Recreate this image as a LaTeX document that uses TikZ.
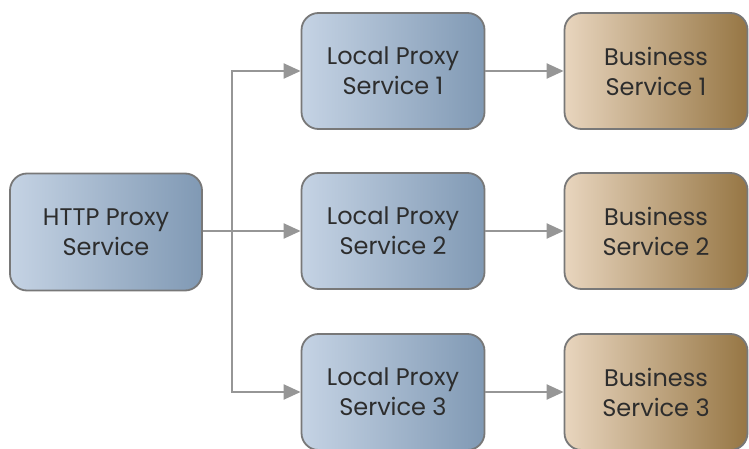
\documentclass[tikz,border=0pt]{standalone}
\usepackage{fontspec}
\setmainfont{Poppins}
\usetikzlibrary{arrows.meta,shadings}
\definecolor{txt}{RGB}{45,45,45}
\definecolor{edge}{RGB}{120,120,120}
\definecolor{conn}{RGB}{150,150,150}
\definecolor{blueL}{RGB}{197,211,228}
\definecolor{blueR}{RGB}{128,153,180}
\definecolor{tanL}{RGB}{232,213,190}
\definecolor{tanR}{RGB}{150,118,68}
\tikzset{
  box/.style={draw=edge, line width=1.8pt, rounded corners=17pt,
    minimum width=183pt, minimum height=116pt, align=center,
    text=txt, font=\fontsize{24}{30}\selectfont, inner sep=0pt},
  proxy/.style={box, left color=blueL, right color=blueR},
  biz/.style={box, left color=tanL, right color=tanR},
  link/.style={draw=conn, line width=2.2pt,
    -{Triangle[length=17pt,width=15pt,fill=conn]}}
}
\begin{document}
\begin{tikzpicture}[x=1pt,y=-1pt]
\path[use as bounding box, clip] (0,0) rectangle (749,449);
\node[proxy, minimum width=192pt, minimum height=117pt] (http) at (106,232) {HTTP Proxy\\Service};
\node[proxy] (lp1) at (393,71) {Local Proxy\\Service 1};
\node[proxy] (lp2) at (393,231) {Local Proxy\\Service 2};
\node[proxy] (lp3) at (393,392) {Local Proxy\\Service 3};
\node[biz] (bs1) at (656,71) {Business\\Service 1};
\node[biz] (bs2) at (656,231) {Business\\Service 2};
\node[biz] (bs3) at (656,392) {Business\\Service 3};
\coordinate (j) at (232,231);
\draw[link] (http.east |- j) -- (lp2.west);
\draw[link] (j) |- (lp1.west);
\draw[link] (j) |- (lp3.west);
\draw[link] (lp1) -- (bs1);
\draw[link] (lp2) -- (bs2);
\draw[link] (lp3) -- (bs3);
\end{tikzpicture}
\end{document}
